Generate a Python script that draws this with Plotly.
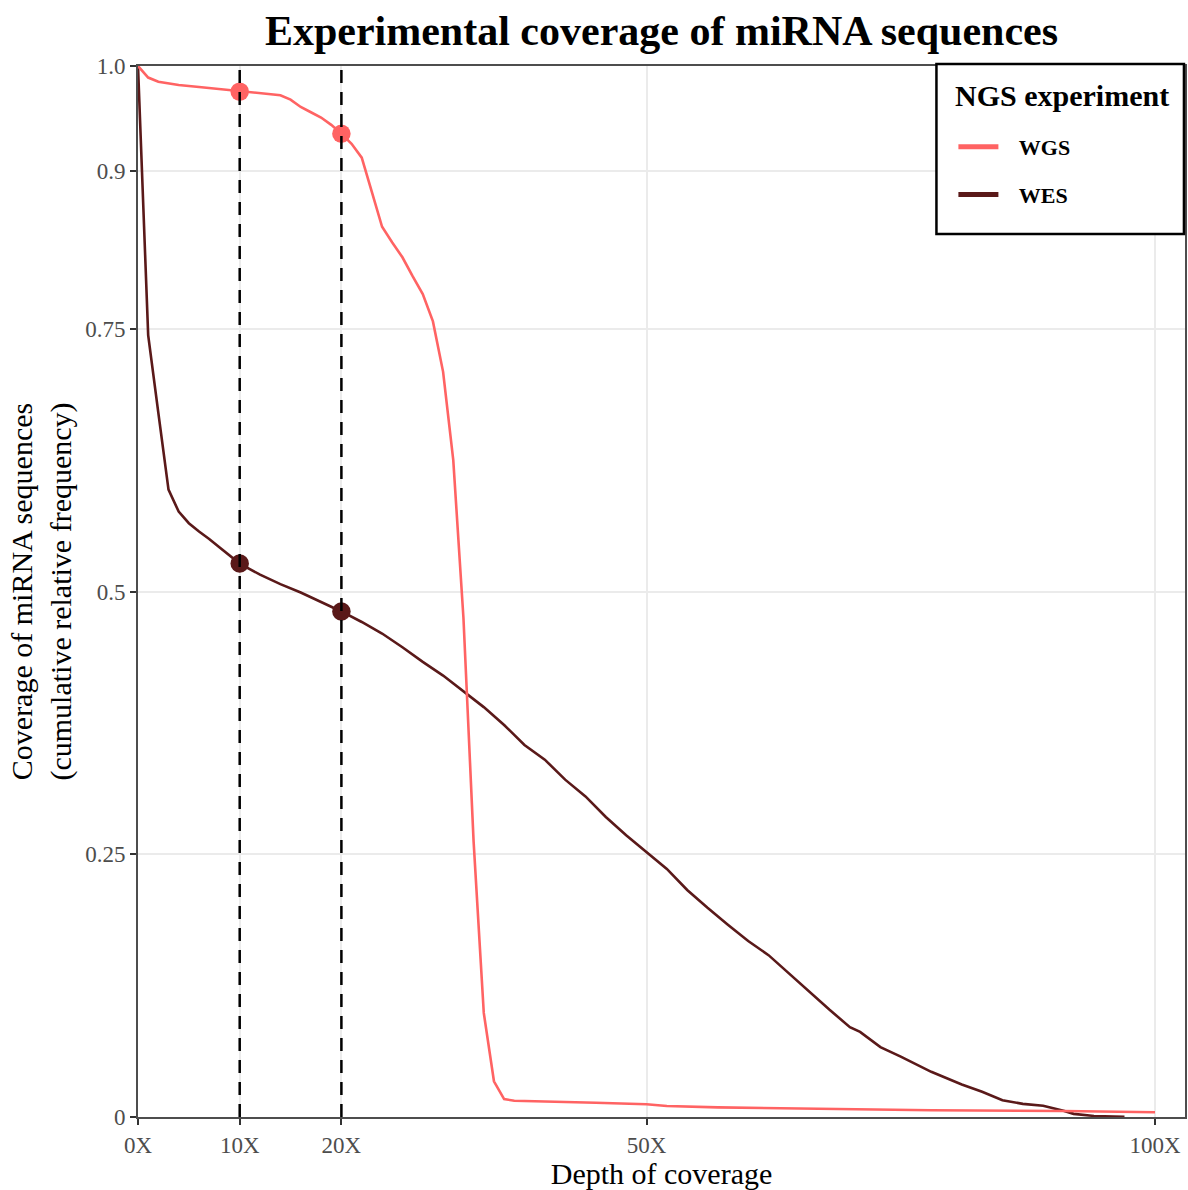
import plotly.graph_objects as go

# ---------------- data ----------------
wgs_depth = [0, 1, 2, 4, 6, 8, 10, 12, 14, 15, 16, 17, 18, 19, 20, 21, 22, 23, 24, 25,
             26, 27, 28, 29, 30, 31, 32, 33, 34, 35, 36, 37, 40, 45, 50, 52, 57, 65, 78, 91, 100]
wgs_cov = [1.0, 0.989, 0.985, 0.982, 0.980, 0.978, 0.9756, 0.9743, 0.9722, 0.968, 0.961,
           0.956, 0.951, 0.944, 0.9356, 0.926, 0.9128, 0.880, 0.847, 0.832, 0.818, 0.800,
           0.783, 0.757, 0.709, 0.625, 0.475, 0.262, 0.099, 0.034, 0.017, 0.0155, 0.015,
           0.0135, 0.0122, 0.0105, 0.0092, 0.0079, 0.0064, 0.0057, 0.0045]

wes_depth = [0, 1, 2, 3, 4, 5, 6, 7, 8, 9, 10, 12, 14, 16, 18, 20, 22, 24, 26, 28, 30, 32,
             34, 36, 38, 40, 42, 44, 46, 48, 50, 52, 54, 56, 58, 60, 62, 64, 66, 68, 70, 71,
             73, 75, 78, 81, 83, 85, 87, 89, 91, 92, 94, 97]
wes_cov = [1.0, 0.744, 0.670, 0.597, 0.576, 0.565, 0.557, 0.550, 0.542, 0.534, 0.5266,
           0.516, 0.507, 0.499, 0.490, 0.481, 0.471, 0.460, 0.447, 0.433, 0.420, 0.405,
           0.390, 0.373, 0.354, 0.340, 0.321, 0.305, 0.2855, 0.268, 0.252, 0.236, 0.216,
           0.199, 0.183, 0.1675, 0.154, 0.1366, 0.119, 0.102, 0.0855, 0.081, 0.0665,
           0.0575, 0.043, 0.031, 0.024, 0.016, 0.0125, 0.0107, 0.006, 0.003, 0.001, 0.0003]

marker_depths = [10, 20]

x_tickvals = [0, 10, 20, 50, 100]
x_ticktext = ["0X", "10X", "20X", "50X", "100X"]
y_tickvals = [0, 0.25, 0.5, 0.75, 0.9, 1.0]
y_ticktext = ["0", "0.25", "0.5", "0.75", "0.9", "1.0"]

series_names = ["WGS", "WES"]
series_colors = {"WGS": "#ff6363", "WES": "#5a1919"}
legend_title = "NGS experiment"

FONT = "Liberation Serif"

fig = go.Figure()

# lines (WES drawn first so WGS sits on top)
fig.add_trace(go.Scatter(x=wes_depth, y=wes_cov, mode="lines",
                         line=dict(color=series_colors["WES"], width=2.6),
                         showlegend=False, hoverinfo="skip"))
fig.add_trace(go.Scatter(x=wgs_depth, y=wgs_cov, mode="lines",
                         line=dict(color=series_colors["WGS"], width=2.6),
                         showlegend=False, hoverinfo="skip"))

# points at selected depths
for name, dep, cov in [("WGS", wgs_depth, wgs_cov), ("WES", wes_depth, wes_cov)]:
    py = [cov[dep.index(d)] for d in marker_depths]
    fig.add_trace(go.Scatter(x=marker_depths, y=py, mode="markers",
                             marker=dict(color=series_colors[name], size=18.5),
                             showlegend=False, hoverinfo="skip"))

# legend entries
for name in series_names:
    fig.add_trace(go.Scatter(x=[None], y=[None], mode="lines",
                             name="\u00a0\u00a0\u2009" + name,
                             legendgroup=name,
                             line=dict(color=series_colors[name], width=5)))

# dashed reference lines
for d in marker_depths:
    fig.add_shape(type="line", x0=d, x1=d, y0=0, y1=1, xref="x", yref="y",
                  line=dict(color="black", width=2.5, dash="13px,9px"), layer="above")

# legend frame + title
fig.add_shape(type="rect", xref="paper", yref="paper",
              x0=0.7626, x1=0.9990, y0=0.8402, y1=1.0019,
              line=dict(color="black", width=2.5), fillcolor="white", layer="above")
fig.add_annotation(text="<b>" + legend_title + "</b>", xref="paper", yref="paper",
                   x=0.7788, y=0.9724, xanchor="left", yanchor="middle", showarrow=False,
                   font=dict(family=FONT, size=30, color="black"))

axis_common = dict(
    showgrid=True, gridcolor="#ebebeb", gridwidth=2,
    ticks="outside", ticklen=6, tickwidth=2, tickcolor="#333333",
    tickfont=dict(family=FONT, size=23, color="#4d4d4d"),
    showline=True, mirror=True, linecolor="#4d4d4d", linewidth=2,
    zeroline=False,
)

fig.update_layout(
    width=1188, height=1190,
    margin=dict(l=138, r=1, t=66, b=73),
    plot_bgcolor="white", paper_bgcolor="white",
    font=dict(family=FONT, color="black"),
    title=dict(text="<b>Experimental coverage of miRNA sequences</b>",
               font=dict(family=FONT, size=42, color="black"),
               x=0.5, xref="paper", xanchor="center",
               y=1 - 30 / 1190, yref="container", yanchor="middle"),
    xaxis=dict(range=[0, 102.95], tickvals=x_tickvals, ticktext=x_ticktext,
               title=dict(text="Depth of coverage", font=dict(family=FONT, size=30, color="black"),
                          standoff=2),
               **axis_common),
    yaxis=dict(range=[0, 1], tickvals=y_tickvals, ticktext=y_ticktext,
               title=dict(text="Coverage of miRNA sequences<br>(cumulative relative frequency)",
                          font=dict(family=FONT, size=30, color="black"), standoff=5),
               **axis_common),
    legend=dict(x=0.7788, xanchor="left", xref="paper", y=0.9429, yanchor="top", yref="paper",
                bgcolor="rgba(0,0,0,0)", borderwidth=0,
                font=dict(family=FONT, size=22, color="black", weight="bold"),
                tracegroupgap=16, itemwidth=40, traceorder="grouped"),
)

fig.write_html("out.html")
